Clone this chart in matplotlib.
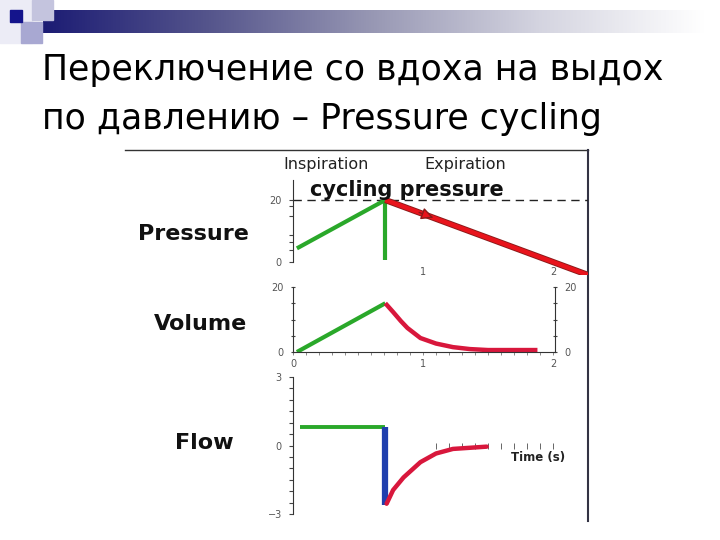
import numpy as np
import matplotlib
matplotlib.use('Agg')
import matplotlib.pyplot as plt
from matplotlib.lines import Line2D
from matplotlib.patches import Rectangle
from matplotlib.colors import LinearSegmentedColormap
from matplotlib.ticker import FixedLocator

W, H = 720, 540

# --- data (time in s) ---
title_lines = ['Переключение со вдоха на выдох', 'по давлению – Pressure cycling']

insp_t = [0.03, 0.71]
insp_p = [4.4, 20]
cut_t = [0.71, 0.71]
cut_p = [20, 0.6]
exp_t = [0.71, 2.27]
exp_p = [20, -4.2]
cycling_p = 20

vol_in_t = [0.03, 0.71]
vol_in_v = [0, 15]
vol_ex_t = [0.71, 0.77, 0.83, 0.88, 0.98, 1.1, 1.23, 1.36, 1.5, 1.88]
vol_ex_v = [15, 12.3, 9.5, 7.4, 4.3, 2.6, 1.5, 0.9, 0.6, 0.6]

flow_in_t = [0.05, 0.71]
flow_in_f = [0.8, 0.8]
flow_drop_t = [0.71, 0.71]
flow_drop_f = [0.8, -2.6]
flow_ex_t = [0.72, 0.77, 0.85, 0.98, 1.1, 1.23, 1.49]
flow_ex_f = [-2.55, -1.95, -1.4, -0.73, -0.35, -0.15, -0.05]
time_ticks = [1.1, 1.2, 1.3, 1.4, 1.5, 1.6, 1.7, 1.8, 1.9, 2.0]

green = '#2aa82a'
red = '#e8141c'
crimson = '#d8173c'
blue = '#1f3fae'
tickc = '#555555'


def px_ax(x0, x1, ytop, ybot):
    return fig.add_axes([x0 / W, 1 - ybot / H, (x1 - x0) / W, (ybot - ytop) / H])


def fx(x):
    return x / W


def fy(y):
    return 1 - y / H


fig = plt.figure(figsize=(7.2, 5.4), dpi=100)

# --- slide decoration ---
deco = fig.add_axes([0, 0, 1, 1], zorder=-5)
deco.set_xlim(0, W)
deco.set_ylim(H, 0)
deco.axis('off')
cmap = LinearSegmentedColormap.from_list('bar', ['#1c1c74', '#55558c', '#9898b4', '#d4d4e0', '#ffffff'])
grad = np.linspace(0, 1, 256).reshape(1, -1)
deco.imshow(grad, cmap=cmap, extent=[43, 705, 33, 10], aspect='auto')
deco.add_patch(Rectangle((0, 0), 32, 43, color='#ececf6'))
deco.add_patch(Rectangle((32, 0), 21, 20, color='#c4c4de'))
deco.add_patch(Rectangle((21, 22), 21, 21, color='#a8a8d2'))
deco.add_patch(Rectangle((10, 10), 12, 12, color='#14148c'))
deco.add_line(Line2D([125, 588], [150, 150], color='#333333', lw=1))
deco.add_line(Line2D([588, 588], [150, 521], color='#333344', lw=1.5))

# --- title ---
fig.text(fx(42), fy(80), title_lines[0], fontsize=25, family='DejaVu Sans', va='baseline')
fig.text(fx(42), fy(129), title_lines[1], fontsize=25, family='DejaVu Sans', va='baseline')

# --- pressure panel ---
ax = px_ax(293, 588, 180, 275)
ax.set_xlim(0, 2.269)
ax.set_ylim(-4.19, 26.45)
ax.patch.set_visible(False)
for s in ['top', 'right', 'bottom']:
    ax.spines[s].set_visible(False)
ax.spines['left'].set_bounds(0, 26.45)
ax.spines['left'].set_color('#333333')
ax.set_xticks([])
ax.set_yticks([0, 20])
ax.yaxis.set_minor_locator(FixedLocator([3.8, 6.3, 8.6, 15, 18]))
ax.tick_params(axis='y', which='both', length=3, width=0.8, color='#444444', labelsize=7, labelcolor=tickc, pad=5)
ax.axhline(cycling_p, color='#222222', lw=1, ls=(0, (6, 4)))
ax.plot(insp_t, insp_p, color=green, lw=3, solid_capstyle='butt')
ax.plot(cut_t, cut_p, color=green, lw=3, solid_capstyle='butt')
ax.plot(exp_t, exp_p, color='#8a1a1a', lw=4.5, solid_capstyle='butt')
ax.plot(exp_t, exp_p, color=red, lw=3.2, solid_capstyle='butt')
ax.annotate('', xy=(1.1, 13.95), xytext=(0.95, 16.3),
            arrowprops=dict(arrowstyle='-|>', color=red, ec='#8a1a1a', mutation_scale=18, lw=1))
ax.text(1, -3.3, '1', fontsize=7, color=tickc, ha='center', va='center')
ax.text(2, -3.3, '2', fontsize=7, color=tickc, ha='center', va='center')

fig.text(fx(326), fy(169), 'Inspiration', fontsize=11.5, color='#222222', ha='center', va='baseline')
fig.text(fx(465), fy(169), 'Expiration', fontsize=11.5, color='#222222', ha='center', va='baseline')
fig.text(fx(407), fy(196), 'cycling pressure', fontsize=15, fontweight='bold', color='#111111',
         ha='center', va='baseline')

# --- volume panel ---
av = px_ax(293, 555, 287, 352)
av.set_xlim(0, 2.015)
av.set_ylim(0, 20)
av.patch.set_visible(False)
av.spines['top'].set_visible(False)
for s in ['left', 'right', 'bottom']:
    av.spines[s].set_color('#333333')
av.set_xticks([0, 1, 2])
av.xaxis.set_minor_locator(FixedLocator(np.arange(0.1, 2.0, 0.1)))
av.set_yticks([0, 20])
av.yaxis.set_minor_locator(FixedLocator([5, 10, 15]))
av.tick_params(axis='x', which='both', length=2, width=0.6, color='#777777', labelsize=7, labelcolor=tickc, pad=3)
av.tick_params(axis='y', which='both', length=3, width=0.8, color='#444444', labelsize=7, labelcolor=tickc,
               pad=5, right=True, labelright=True)
av.tick_params(axis='y', which='both', direction='inout')
av.plot(vol_in_t, vol_in_v, color=green, lw=3, solid_capstyle='butt')
av.plot(vol_ex_t, vol_ex_v, color=crimson, lw=3.2, solid_capstyle='butt')

# --- flow panel ---
af = px_ax(293, 588, 377, 514)
af.set_xlim(0, 2.269)
af.set_ylim(-3, 3)
af.patch.set_visible(False)
for s in ['top', 'right']:
    af.spines[s].set_visible(False)
af.spines['left'].set_color('#333333')
af.spines['bottom'].set_position(('data', 0))
af.spines['bottom'].set_color('none')
af.set_xticks(time_ticks)
af.set_xticklabels([])
af.tick_params(axis='x', length=4, width=0.7, color='#666666', direction='inout')
af.set_yticks([-3, 0, 3])
af.yaxis.set_minor_locator(FixedLocator([-2.5, -2, -1.5, -1, -0.5, 0.5, 1, 1.5, 2, 2.5]))
af.tick_params(axis='y', which='both', length=3, width=0.8, color='#444444', labelsize=7, labelcolor=tickc, pad=5)
af.plot(flow_in_t, flow_in_f, color=green, lw=2.8, solid_capstyle='butt')
af.plot(flow_drop_t, flow_drop_f, color=blue, lw=4.5, solid_capstyle='butt')
af.plot(flow_ex_t, flow_ex_f, color=crimson, lw=3.2, solid_capstyle='round')
fig.text(fx(538), fy(457), 'Time (s)', fontsize=8.5, fontweight='bold', color='#222222', ha='center', va='center')

# --- panel names ---
for name, x, y in [('Pressure', 193, 234), ('Volume', 201, 324), ('Flow', 204, 443)]:
    fig.text(fx(x), fy(y), name, fontsize=16, fontweight='bold', color='#111111', ha='center', va='center')

plt.savefig('out.png', dpi=100)
